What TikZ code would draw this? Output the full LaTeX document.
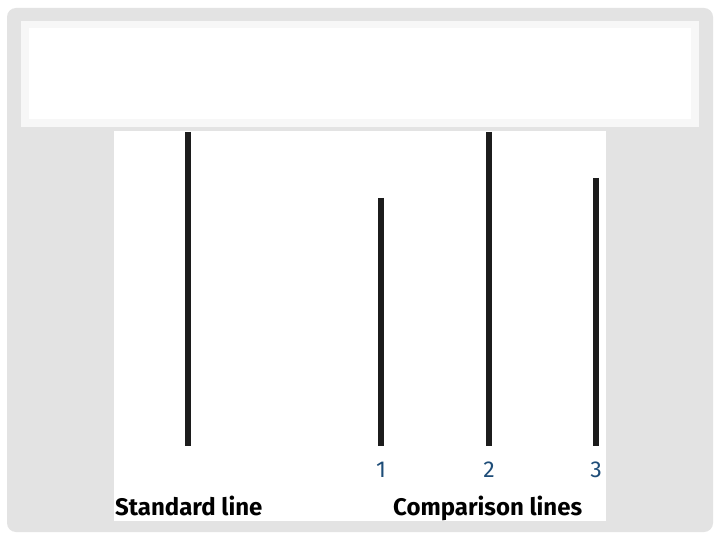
\documentclass[tikz,border=0pt]{standalone}
\usepackage{fontspec}
\setmainfont{Fira Sans}
\usetikzlibrary{positioning}
\definecolor{slidegray}{HTML}{E3E3E3}
\definecolor{boxedge}{HTML}{F7F7F7}
\definecolor{numblue}{HTML}{1E4D78}
\definecolor{barblack}{HTML}{1C1C1C}
\tikzset{bar/.style={line width=6pt, draw=barblack},
  numlabel/.style={text=numblue, font=\fontsize{23}{23}\selectfont, inner sep=0pt, anchor=base},
  caption/.style={font=\fontsize{24}{24}\selectfont\bfseries, inner sep=0pt, anchor=base west}
}

\begin{document}
\begin{tikzpicture}[x=1pt,y=-1pt]
  \useasboundingbox (0,0) rectangle (720,540);
  \fill[white] (0,0) rectangle (720,540);
  \fill[slidegray, rounded corners=9pt] (7,8) rectangle (713,532);
  % title box
  \fill[boxedge] (21,21) rectangle (699,127);
  \fill[white] (29,28) rectangle (691,119);
  % picture area
  \fill[white] (114,131) rectangle (606,521);
  \coordinate (std top) at (188,132);
  \coordinate (std bot) at (188,446);
  \node[numlabel] (n1) at (381,477) {1};
  \node[numlabel] (n2) at (489,477) {2};
  \node[numlabel] (n3) at (596,477) {3};
  \draw[bar] (std top) -- (std bot);
  \draw[bar] (381,198) -- (381,446);
  \draw[bar] (489,132) -- (489,446);
  \draw[bar] (596,178) -- (596,446);
  \node[caption] (stdcap) at (115,515) {Standard line};
  \node[caption] (cmpcap) at (393,515) {Comparison lines};
\end{tikzpicture}
\end{document}
